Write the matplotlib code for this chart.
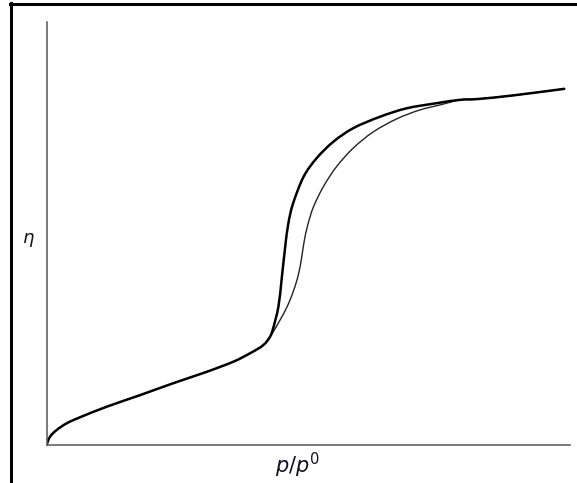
import matplotlib
matplotlib.use("Agg")
import matplotlib.pyplot as plt
import numpy as np
from matplotlib.lines import Line2D
from matplotlib.path import Path
from matplotlib.patches import PathPatch

plt.rcParams['mathtext.fontset'] = 'dejavusans'

# Shared lower part (monolayer/multilayer region)
lower_x = [0.000, 0.0067, 0.0195, 0.0386, 0.064, 0.115, 0.179, 0.242, 0.306, 0.357, 0.389, 0.414, 0.427]
lower_y = [0.000, 0.0196, 0.0355, 0.0513, 0.0655, 0.0905, 0.118, 0.146, 0.173, 0.197, 0.217, 0.236, 0.256]

# Desorption branch (upper/left, thick)
des_x = [0.427, 0.433, 0.443, 0.449, 0.456, 0.462, 0.471, 0.491, 0.516, 0.548, 0.586, 0.637, 0.688, 0.745, 0.790]
des_y = [0.256, 0.276, 0.327, 0.390, 0.469, 0.524, 0.571, 0.634, 0.678, 0.717, 0.749, 0.776, 0.796, 0.808, 0.816]

# Adsorption branch (lower/right, thin)
ads_x = [0.427, 0.445, 0.460, 0.472, 0.481, 0.487, 0.492, 0.499, 0.510, 0.529, 0.554, 0.586, 0.624, 0.669, 0.713, 0.752, 0.790]
ads_y = [0.256, 0.293, 0.328, 0.365, 0.402, 0.440, 0.480, 0.520, 0.563, 0.611, 0.658, 0.702, 0.740, 0.771, 0.792, 0.804, 0.816]

# Shared upper tail
tail_x = [0.790, 0.825, 0.895, 0.989]
tail_y = [0.816, 0.818, 0.827, 0.842]


def smooth_path(xs, ys):
    """Catmull-Rom style cubic Bezier path passing through the given points."""
    p = np.column_stack([xs, ys])
    n = len(p)
    verts = [p[0]]
    codes = [Path.MOVETO]
    for i in range(n - 1):
        p0 = p[i - 1] if i > 0 else p[i]
        p1 = p[i]
        p2 = p[i + 1]
        p3 = p[i + 2] if i + 2 < n else p[i + 1]
        c1 = p1 + (p2 - p0) / 6.0
        c2 = p2 - (p3 - p1) / 6.0
        verts += [c1, c2, p2]
        codes += [Path.CURVE4] * 3
    return Path(verts, codes)


fig = plt.figure(figsize=(5.77, 4.83), dpi=100)
ax = fig.add_axes([46.5/577, 38/483, 523.5/577, 423/483])

ads_path = smooth_path(lower_x + ads_x[1:] + tail_x[1:], lower_y + ads_y[1:] + tail_y[1:])
des_path = smooth_path(lower_x + des_x[1:] + tail_x[1:], lower_y + des_y[1:] + tail_y[1:])
ax.add_patch(PathPatch(ads_path, facecolor='none', edgecolor='#222222', lw=1.0,
                       capstyle='round', joinstyle='round'))
ax.add_patch(PathPatch(des_path, facecolor='none', edgecolor='black', lw=1.8,
                       capstyle='round', joinstyle='round'))

ax.set_xlim(0, 1)
ax.set_ylim(0, 1)
ax.set_xticks([])
ax.set_yticks([])
for s in ['top', 'right']:
    ax.spines[s].set_visible(False)
for s in ['left', 'bottom']:
    ax.spines[s].set_color('#555555')
    ax.spines[s].set_linewidth(1.1)

fig.text(297/577, 1 - 465/483, r'$p/p^0$', fontsize=15, ha='center', va='center', color='#111122')
fig.text(28/577, 1 - 240/483, r'$\eta$', fontsize=13, ha='center', va='center', color='#111122')

# Outer frame (top and left edges only)
fig.add_artist(Line2D([10.5/577, 10.5/577], [0, 1 - 3/483], transform=fig.transFigure, color='black', lw=2.2))
fig.add_artist(Line2D([9.5/577, 1], [1 - 4/483, 1 - 4/483], transform=fig.transFigure, color='black', lw=2.2))

fig.savefig('out.png', dpi=100)
